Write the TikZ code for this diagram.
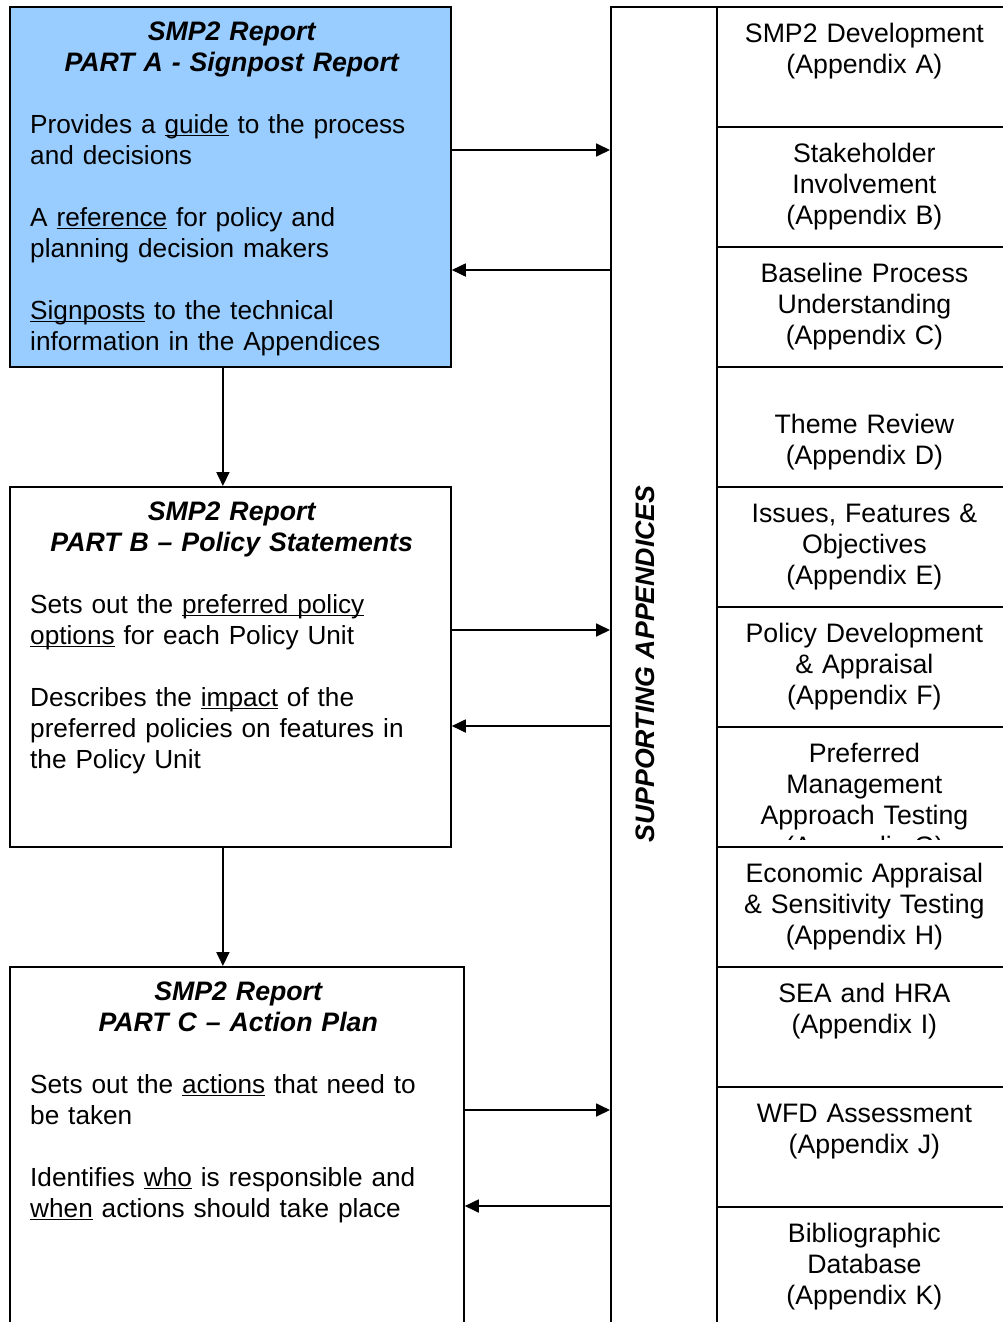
\documentclass[tikz,border=0pt]{standalone}
\usepackage{fontspec}
\setmainfont{Liberation Sans}
\usepackage{xcolor}
\usetikzlibrary{
    arrows.meta,
    positioning
}
\definecolor{partblue}{HTML}{99CCFF}
\newsavebox\ulbox
\newcommand\ulword[1]{\leavevmode\sbox\ulbox{#1}\rlap{\rule[-3pt]{\wd\ulbox}{1.6pt}}\usebox\ulbox}
\newcommand\tallstrut{\rule{0pt}{24pt}}
\newcommand\gap{\par\vspace{31pt}}
\newcommand\bodytext{\raggedright\mdseries\upshape\fontsize{26.2}{31}\selectfont}

\begin{document}
\begin{tikzpicture}[x=1pt, y=-1pt,
        partbox/.style={draw, line width=1.8pt, anchor=north west, inner sep=0pt},
        parttext/.style={anchor=north west, inner sep=0pt, font=\fontsize{26.7}{31}\selectfont},
        appbox/.style={draw, fill=white, line width=1.8pt, anchor=north west, inner sep=0pt,
            minimum width=300pt, minimum height=120pt},
        apptext/.style={anchor=north, inner sep=0pt, text width=290pt, align=center,
            font=\fontsize{26.7}{31}\selectfont},
        flow/.style={line width=1.8pt, -{Triangle[length=14pt, width=13pt]}}]
                    \useasboundingbox (0, 0) rectangle (1003, 1322);
                    \clip (0, 0) rectangle (1003, 1322);

                    \node[partbox, fill=partblue, minimum width=441pt, minimum height=360pt] (partA) at (9, 6) {};
                    \node[partbox, minimum width=441pt, minimum height=360pt] (partB) at (9, 486) {};
                    \node[partbox, minimum width=454pt, minimum height=420pt] (partC) at (9, 966) {};
                    \node[partbox, minimum width=106pt, minimum height=1400pt] (supp) at (610, 6) {};

                    \node[parttext, text width=403pt] (textA) at ([xshift=21pt, yshift=-10pt]partA.north west)
                    {\centering\bfseries\itshape\tallstrut SMP2 Report\\PART A - Signpost Report\gap
                    \bodytext Provides a \ulword{guide} to the process\\and decisions\gap
                    A \ulword{reference} for policy and\\planning decision makers\gap
                    \ulword{Signposts} to the technical\\information in the Appendices};
                    \node[parttext, text width=403pt] (textB) at ([xshift=21pt, yshift=-10pt]partB.north west)
                    {\centering\bfseries\itshape\tallstrut SMP2 Report\\PART B -- Policy Statements\gap
                    \bodytext Sets out the \ulword{preferred policy}\\\ulword{options} for each Policy Unit\gap
                    Describes the \ulword{impact} of the\\preferred policies on features in\\the Policy Unit};
                    \node[parttext, text width=416pt] (textC) at ([xshift=21pt, yshift=-10pt]partC.north west)
                    {\centering\bfseries\itshape\tallstrut SMP2 Report\\PART C -- Action Plan\gap
                    \bodytext Sets out the \ulword{actions} that need to\\be taken\gap
                    Identifies \ulword{who} is responsible and\\\ulword{when} actions should take place};

                    \node[rotate=90, font=\fontsize{26.7}{31}\selectfont\bfseries\itshape] (suppLabel) at (645, 664) {SUPPORTING APPENDICES};

                    \foreach \txt [count=\i] in {
                        {SMP2 Development\\(Appendix A)},
                        {Stakeholder\\Involvement\\(Appendix B)},
                        {Baseline Process\\Understanding\\(Appendix C)},
                        {\\Theme Review\\(Appendix D)},
                        {Issues, Features \&\\Objectives\\(Appendix E)},
                        {Policy Development\\\& Appraisal\\(Appendix F)},
                        {Preferred\\Management\\Approach Testing\\(Appendix G)},
                        {Economic Appraisal\\\& Sensitivity Testing\\(Appendix H)},
                        {SEA and HRA\\(Appendix I)},
                        {WFD Assessment\\(Appendix J)},
                        {Bibliographic\\Database\\(Appendix K)}} {
                        \node[appbox] (app\i) at (716, {6+120*(\i-1)}) {};
                        \begin{scope}
                            \clip ([yshift=8pt]app\i.south west) rectangle (app\i.north east);
                            \node[apptext] (appText\i) at ([xshift=-2.5pt, yshift=-12pt]app\i.north) {\tallstrut\txt};
                        \end{scope}
                    }

                    \coordinate (dropA) at ([xshift=-7.5pt]partA.south);
                    \coordinate (dropB) at ([xshift=-7.5pt]partB.south);
                    \draw[flow] (dropA) -- (dropA |- partB.north);
                    \draw[flow] (dropB) -- (dropB |- partC.north);

                    \coordinate (outA) at ([yshift=-144pt]partA.north east);
                    \coordinate (inA) at ([yshift=-264pt]partA.north east);
                    \coordinate (outB) at ([yshift=-144pt]partB.north east);
                    \coordinate (inB) at ([yshift=-240pt]partB.north east);
                    \coordinate (outC) at ([yshift=-144pt]partC.north east);
                    \coordinate (inC) at ([yshift=-240pt]partC.north east);
                    \draw[flow] (outA) -- (outA -| supp.west);
                    \draw[flow] (inA -| supp.west) -- (inA);
                    \draw[flow] (outB) -- (outB -| supp.west);
                    \draw[flow] (inB -| supp.west) -- (inB);
                    \draw[flow] (outC) -- (outC -| supp.west);
                    \draw[flow] (inC -| supp.west) -- (inC);
                \end{tikzpicture}
\end{document}
